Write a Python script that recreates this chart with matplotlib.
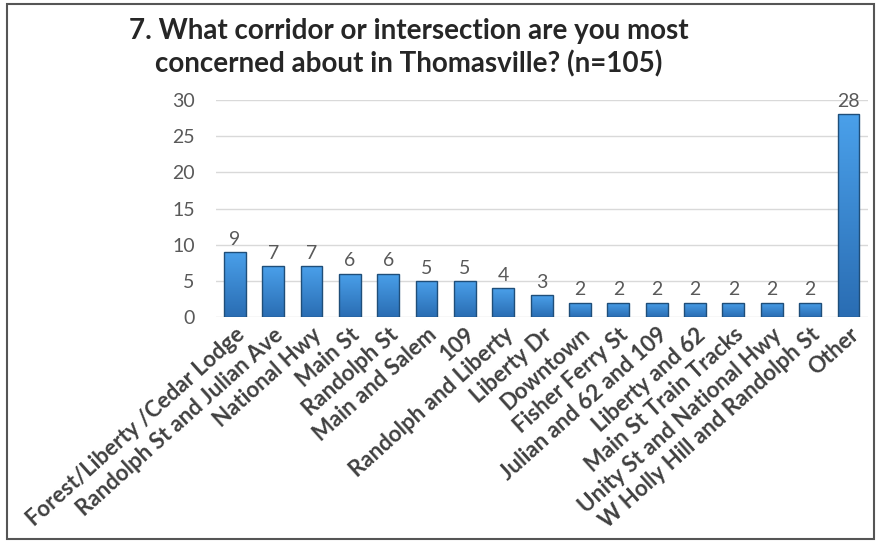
import numpy as np
import matplotlib.pyplot as plt
from matplotlib.patches import Rectangle

plt.rcParams['font.family'] = ['Lato', 'DejaVu Sans']

categories = ['Forest/Liberty /Cedar Lodge', 'Randolph St and Julian Ave',
              'National Hwy', 'Main St', 'Randolph St', 'Main and Salem', '109',
              'Randolph and Liberty', 'Liberty Dr', 'Downtown', 'Fisher Ferry St',
              'Julian and 62 and 109', 'Liberty and 62', 'Main St Train Tracks',
              'Unity St and National Hwy', 'W Holly Hill and Randolph St', 'Other']
counts = [9, 7, 7, 6, 6, 5, 5, 4, 3, 2, 2, 2, 2, 2, 2, 2, 28]
yticks = [0, 5, 10, 15, 20, 25, 30]

fig = plt.figure(figsize=(8.8, 5.43), dpi=100)
ax = fig.add_axes([0.245, 0.416, 0.741, 0.4])

x = range(len(categories))
bars = ax.bar(x, counts, width=0.57, color='none', edgecolor='#1f4e79',
              linewidth=1.0, zorder=4)

# vertical blue shading inside each bar
grad = np.linspace(0, 1, 100).reshape(-1, 1)
cmap = plt.matplotlib.colors.LinearSegmentedColormap.from_list(
    'barshade', ['#2a6db3', '#4aa0ea'])
for b, v in zip(bars, counts):
    x0 = b.get_x()
    im = ax.imshow(grad, extent=(x0, x0 + b.get_width(), 0, v), origin='lower',
                   aspect='auto', cmap=cmap, zorder=3)
    im.set_clip_path(b)
    ax.text(x0 + b.get_width() / 2, v + 0.6, str(v), ha='center',
            va='bottom', fontsize=14, color='#595959')

ax.set_xlim(-0.5, len(categories) - 0.5)
ax.set_ylim(0, 30)
ax.set_yticks(yticks)
ax.set_yticklabels([str(t) for t in yticks], fontsize=14, color='#595959')
ax.yaxis.grid(True, color='#d9d9d9', linewidth=1, zorder=0)
ax.tick_params(axis='y', length=0, pad=15)
ax.tick_params(axis='x', length=0, pad=5)
ax.set_xticks(list(x))
ax.set_xticklabels(categories, rotation=42, ha='right', rotation_mode='anchor',
                   fontsize=16, color='#404040', fontweight='bold')
for s in ax.spines.values():
    s.set_visible(False)

fig.text(0.464, 0.912, '7. What corridor or intersection are you most\n'
         'concerned about in Thomasville? (n=105)', ha='center', va='center',
         fontsize=20, fontweight='bold', color='#262626', linespacing=1.25)

# outer frame around the chart
fig.patches.append(Rectangle((0.008, 0.008), 0.985, 0.984, transform=fig.transFigure,
                             fill=False, edgecolor='#555555', linewidth=1.5))

fig.savefig('out.png', dpi=100)
